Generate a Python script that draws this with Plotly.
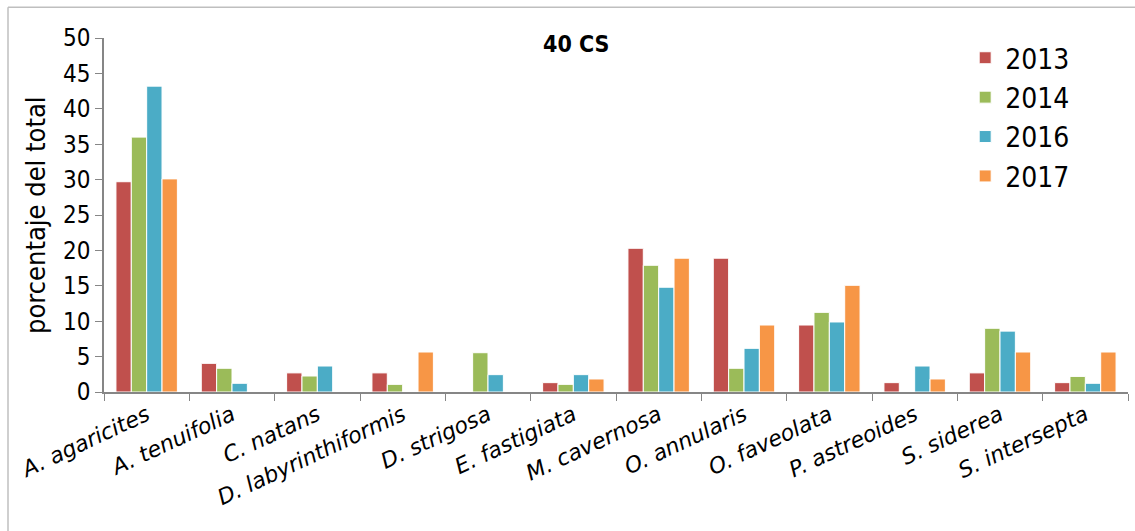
import plotly.graph_objects as go

species = ["A. agaricites", "A. tenuifolia", "C. natans", "D. labyrinthiformis",
           "D. strigosa", "E. fastigiata", "M. cavernosa", "O. annularis",
           "O. faveolata", "P. astreoides", "S. siderea", "S. intersepta"]
y2013 = [29.7, 4.05, 2.7, 2.7, 0, 1.32, 20.3, 18.9, 9.46, 1.32, 2.7, 1.32]
y2014 = [36.0, 3.35, 2.26, 1.08, 5.55, 1.08, 17.9, 3.35, 11.25, 0, 9.0, 2.2]
y2016 = [43.2, 1.23, 3.67, 0, 2.45, 2.45, 14.8, 6.17, 9.89, 3.67, 8.6, 1.23]
y2017 = [30.1, 0, 0, 5.65, 0, 1.84, 18.9, 9.46, 15.07, 1.84, 5.65, 5.65]
years = ["2013", "2014", "2016", "2017"]
colors = ["#C0504D", "#9BBB59", "#4BACC6", "#F79646"]
yticks = [0, 5, 10, 15, 20, 25, 30, 35, 40, 45, 50]

FONT = "DejaVu Sans Condensed, DejaVu Sans, sans-serif"

fig = go.Figure()
for name, vals, col in zip(years, [y2013, y2014, y2016, y2017], colors):
    fig.add_trace(go.Bar(x=species, y=vals, name=name,
                         marker=dict(color=col, line=dict(color="white", width=1))))

fig.update_layout(
    width=1135, height=531,
    margin=dict(l=104, r=7, t=38, b=139),
    paper_bgcolor="white", plot_bgcolor="white",
    barmode="group", bargap=0.28, bargroupgap=0,
    font=dict(family=FONT, color="black"),
    showlegend=True,
    legend=dict(x=0.841, y=1.014, xanchor="left", yanchor="top",
                font=dict(size=28, family=FONT), tracegroupgap=0,
                bgcolor="rgba(0,0,0,0)"),
    annotations=[
        dict(text="<b>40 CS</b>", x=0.461, y=0.982, xref="paper", yref="paper",
             showarrow=False, font=dict(size=23, family=FONT),
             xanchor="center", yanchor="middle"),
        dict(text="porcentaje del total", x=-0.0674, y=0.5, xref="paper", yref="paper",
             showarrow=False, textangle=-90, font=dict(size=27, family=FONT),
             xanchor="center", yanchor="middle"),
    ],
    shapes=[
        dict(type="line", xref="paper", yref="paper", x0=-0.09375, x1=1.1, y0=1.0866, y1=1.0866,
             line=dict(color="#BFBFBF", width=1.5)),
        dict(type="line", xref="paper", yref="paper", x0=-0.09375, x1=-0.09375, y0=1.0866, y1=-0.45,
             line=dict(color="#BFBFBF", width=1.5)),
    ],
)
fig.update_xaxes(type="category", tickson="boundaries", ticks="outside", ticklen=7,
                 tickcolor="#868686", showline=True, linecolor="#868686", linewidth=1.5,
                 tickvals=species, ticktext=["<i>" + s + "</i>" for s in species],
                 tickangle=-25, tickfont=dict(size=22, family="DejaVu Sans, sans-serif"),
                 showgrid=False)
fig.update_yaxes(range=[0, 50], tickvals=yticks, ticks="outside", ticklen=7,
                 tickcolor="#868686", showline=True, linecolor="#868686", linewidth=1.5,
                 tickfont=dict(size=24, family=FONT), showgrid=False, zeroline=False)

fig.write_html("out.html")
